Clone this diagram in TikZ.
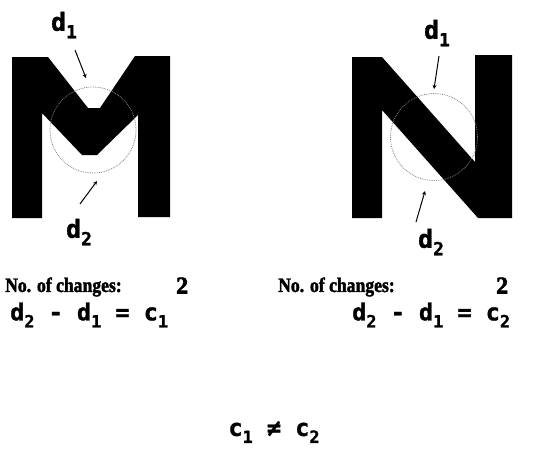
\documentclass[tikz,border=0pt]{standalone}
\usepackage{fontspec}
\usepackage{graphicx}
\setmainfont{Liberation Serif}
\newfontfamily\monob{DejaVu Sans Mono}[BoldFeatures={FakeBold=1.2}]
\newfontfamily\countfont{Liberation Serif}[BoldFeatures={FakeBold=2,FakeStretch=0.86}]
\newfontfamily\numfont{Liberation Serif}[BoldFeatures={FakeBold=2.5}]
\newcommand\lowsub[1]{\raisebox{-0.3em}{\scalebox{0.72}{#1}}}
\usetikzlibrary{arrows.meta}
\tikzset{
  glyph/.style={fill=black, draw=none},
  zone/.style={draw=black!50, densely dotted, line width=0.8pt},
  pointer/.style={draw=black, line width=1pt, -{Stealth[length=4pt,width=4pt]}},
  dlabel/.style={inner sep=0pt, font=\monob\bfseries\fontsize{25}{25}\selectfont},
  eqlabel/.style={inner sep=0pt, anchor=west, font=\monob\bfseries\fontsize{23.5}{23.5}\selectfont},
  countlabel/.style={inner sep=0pt, anchor=west, font=\countfont\bfseries\fontsize{20.5}{20.5}\selectfont},
  countnum/.style={inner sep=0pt, anchor=west, font=\numfont\bfseries\fontsize{24}{24}\selectfont},
}
\begin{document}
\begin{tikzpicture}[x=1pt,y=-1pt]
\useasboundingbox (0,0) rectangle (534,448);
% Letter M
\path[glyph] (12,57) -- (48,57) -- (88,108) -- (100,108) -- (135,56) -- (170,56)
  -- (170,217) -- (138,217) -- (138,115) -- (97,155) -- (82,155) -- (42,113)
  -- (42,218) -- (12,218) -- cycle;
\node[zone, circle, minimum size=86pt, inner sep=0pt] (cm) at (93,130) {};
% Letter N
\path[glyph] (352,57) -- (382,57) -- (475,162) -- (475,55) -- (512,55) -- (512,218)
  -- (478,218) -- (382,110) -- (382,218) -- (352,218) -- cycle;
\node[zone, circle, minimum size=87pt, inner sep=0pt] (cn) at (434,137) {};
% labels M
\node[dlabel] (md1) at (64,25) {d\lowsub{1}};
\node[dlabel] (md2) at (79,232) {d\lowsub{2}};
\coordinate (md1s) at (75,50);
\coordinate (md1e) at (86,78);
\coordinate (md2s) at (80,204);
\coordinate (md2e) at (97,181);
\draw[pointer] (md1s) -- (md1e);
\draw[pointer] (md2s) -- (md2e);
% labels N
\node[dlabel] (nd1) at (437,33) {d\lowsub{1}};
\node[dlabel] (nd2) at (431,242) {d\lowsub{2}};
\coordinate (nd1s) at (439,56);
\coordinate (nd1e) at (434,89);
\coordinate (nd2s) at (416,222);
\coordinate (nd2e) at (425,191);
\draw[pointer] (nd1s) -- (nd1e);
\draw[pointer] (nd2s) -- (nd2e);
% counts
\node[countlabel] (lc) at (5,287) {No. of changes:};
\node[countnum] (lcn) at (176,285.5) {2};
\node[countlabel] (rc) at (278,287) {No. of changes:};
\node[countnum] (rcn) at (496,285.5) {2};
% equations
\node[eqlabel] (leq) at (10,315) {d\lowsub{2} - d\lowsub{1} = c\lowsub{1}};
\node[eqlabel] (req) at (352,315) {d\lowsub{2} - d\lowsub{1} = c\lowsub{2}};
\node[eqlabel, anchor=center] (neq) at (274,432) {c\lowsub{1} ≠ c\lowsub{2}};
\end{tikzpicture}
\end{document}
